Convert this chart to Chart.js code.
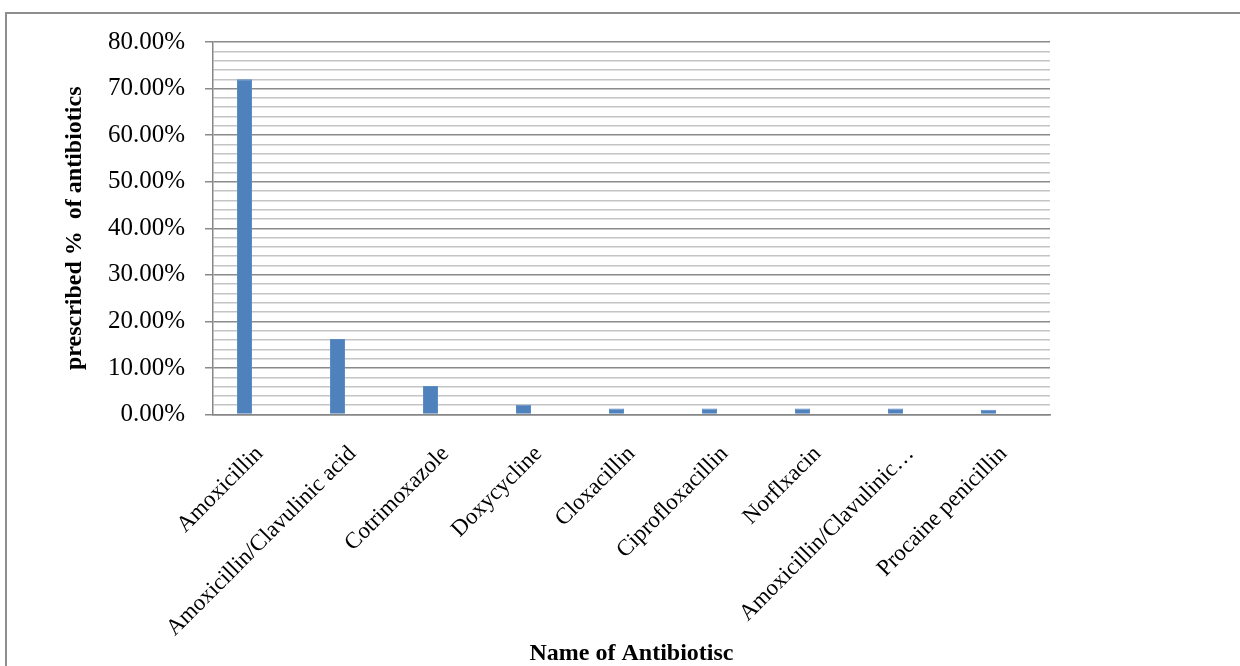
<!DOCTYPE html>
<html>
<head>
<meta charset="utf-8">
<script src="https://cdn.jsdelivr.net/npm/chart.js@4.4.0/dist/chart.umd.min.js"></script>
<style>
  body { margin: 0; background: #fff; overflow: hidden; }
  #frame { position: absolute; left: 5px; top: 12px; width: 1300px; height: 700px; border: 2px solid #8e8e8e; }
  #wrap { position: absolute; left: 0; top: 0; width: 1240px; height: 666px; }
</style>
</head>
<body>
<div id="frame"></div>
<div id="wrap"><canvas id="chart" width="1240" height="666"></canvas></div>
<script>
// categorias y valores (%)
const antibiotics = [
  "Amoxicillin",
  "Amoxicillin/Clavulinic acid",
  "Cotrimoxazole",
  "Doxycycline",
  "Cloxacillin",
  "Ciprofloxacillin",
  "Norflxacin",
  "Amoxicillin/Clavulinic\u2026",
  "Procaine penicillin"
];
const prescribedPct = [72.0, 16.2, 6.1, 2.1, 1.3, 1.3, 1.3, 1.3, 1.0];
// series vacias del grafico original (ocupan sitio en cada grupo)
const series2 = [null, null, null, null, null, null, null, null, null];
const series3 = [null, null, null, null, null, null, null, null, null];
const yMajorTicks = [0, 10, 20, 30, 40, 50, 60, 70, 80];

const serif = "'Liberation Serif', 'Times New Roman', serif";

const ctx = document.getElementById("chart").getContext("2d");
new Chart(ctx, {
  type: "bar",
  data: {
    labels: antibiotics,
    datasets: [
      { label: "Series1", data: prescribedPct, backgroundColor: "#4f81bd", borderColor: "#5b8cc6", borderWidth: 1 },
      { label: "Series2", data: series2, backgroundColor: "#c0504d" },
      { label: "Series3", data: series3, backgroundColor: "#9bbb59" }
    ]
  },
  options: {
    responsive: false,
    animation: false,
    layout: { padding: { left: 0, top: 42, right: 190, bottom: 0 } },
    datasets: { bar: { categoryPercentage: 45 / 93, barPercentage: 1 } },
    plugins: { legend: { display: false }, tooltip: { enabled: false } },
    scales: {
      x: {
        grid: { display: false, drawTicks: false },
        border: { display: true, color: "#868686", width: 1.5 },
        ticks: {
          autoSkip: false,
          minRotation: 45,
          maxRotation: 45,
          padding: 26,
          color: "#000",
          font: { family: serif, size: 23 }
        },
        title: {
          display: true,
          text: "Name of Antibiotisc",
          color: "#000",
          font: { family: serif, size: 24, weight: "bold", lineHeight: 1 },
          padding: { top: 0, bottom: 0 }
        },
        afterFit: (scale) => { scale.height = 251.5; }
      },
      y: {
        min: 0,
        max: 80,
        ticks: {
          stepSize: 2,
          autoSkip: false,
          padding: 20,
          color: "#000",
          font: { family: serif, size: 25 },
          callback: (v) => yMajorTicks.includes(v) ? v.toFixed(2) + "%" : ""
        },
        grid: {
          tickLength: 8,
          lineWidth: 1.5,
          color: (c) => yMajorTicks.includes(c.tick.value) ? "#8a8a8a" : "#c4c4c4",
          tickColor: (c) => yMajorTicks.includes(c.tick.value) ? "#8a8a8a" : "rgba(0,0,0,0)"
        },
        border: { display: true, color: "#868686", width: 1.5 },
        title: {
          display: true,
          text: "prescribed %  of antibiotics",
          color: "#000",
          font: { family: serif, size: 24, weight: "bold", lineHeight: 1 },
          padding: { top: 63, bottom: 0 }
        },
        afterFit: (scale) => { scale.width = 213; }
      }
    }
  }
});
</script>
</body>
</html>
